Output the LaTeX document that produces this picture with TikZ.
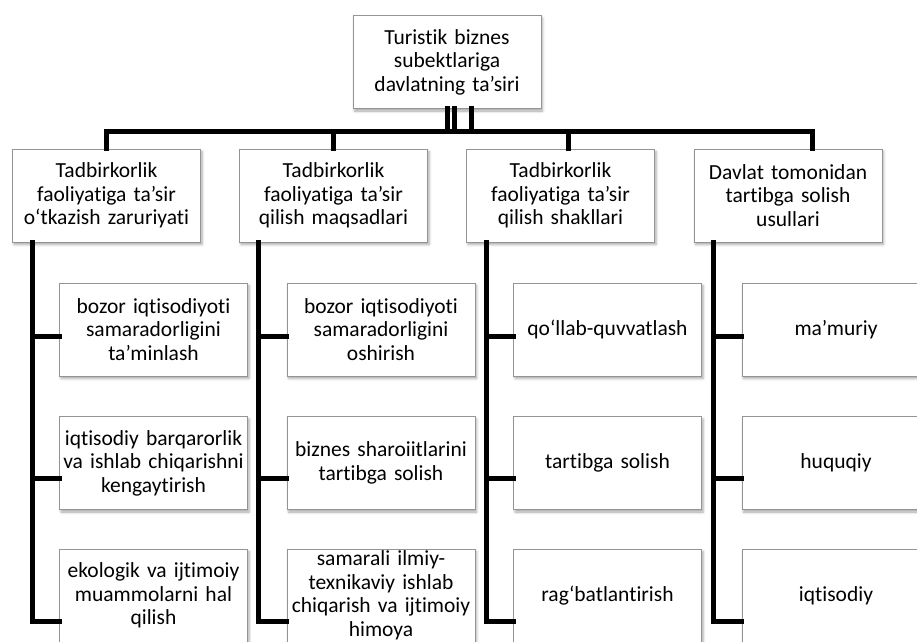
\documentclass[tikz,border=0pt]{standalone}
\usepackage{fontspec}
\setmainfont{Carlito}[Ligatures={NoCommon,NoContextual}]
\usepackage{tikz}
\usetikzlibrary{positioning,calc,shadows.blur}

\tikzset{
  box/.style={draw=black!42, line width=0.9pt, fill=white, rectangle,
    minimum width=188pt, minimum height=93pt, inner sep=2pt,
    text width=184pt, align=center,
    font=\fontsize{21.5}{23.5}\selectfont,
    blur shadow={shadow xshift=1.5pt, shadow yshift=-2.5pt, shadow blur radius=2.5pt, shadow opacity=35}},
  link/.style={line width=5pt, line cap=rect}
}

\begin{document}
\begin{tikzpicture}[x=1pt, y=-1pt]
    \useasboundingbox (0,0) rectangle (917,641);
    \clip (0,0) rectangle (917,641);

    \coordinate (bus) at (447,131);

    \node [box] (top) at (447,62) {Turistik biznes\\ subektlariga\\ davlatning ta’siri};

    \node [box] (need) at (106.5,195.5) {Tadbirkorlik\\ faoliyatiga ta’sir\\ o‘tkazish zaruriyati};
    \node [box] (goal) at (333.5,195.5) {Tadbirkorlik\\ faoliyatiga ta’sir\\ qilish maqsadlari};
    \node [box] (form) at (560.5,195.5) {Tadbirkorlik\\ faoliyatiga ta’sir\\ qilish shakllari};
    \node [box] (meth) at (788,195.5) {Davlat tomonidan\\ tartibga solish\\ usullari};

    \draw [link] (top.south) -- (top.south |- bus);
    \draw [link] ([xshift=7]top.south) -- ([xshift=7]top.south |- bus);
    \draw [link] ([xshift=24]top.south) -- ([xshift=24]top.south |- bus);
    \draw [link] (need.north) -- (need.north |- bus) -- ([xshift=24]meth.north |- bus) -- ([xshift=24]meth.north);
    \draw [link] (goal.north) -- (goal.north |- bus);
    \draw [link] ([xshift=7.5]form.north) -- ([xshift=7.5]form.north |- bus);

    % first column
    \node [box] (need1) at (153.5,329.5) {bozor iqtisodiyoti\\ samaradorligini\\ ta’minlash};
    \node [box] (need2) at (153.5,463) {iqtisodiy barqarorlik\\ va ishlab chiqarishni\\ kengaytirish};
    \node [box] (need3) at (153.5,595.5) {ekologik va ijtimoiy\\ muammolarni hal\\ qilish};

    % second column
    \node [box] (goal1) at (381,329.5) {bozor iqtisodiyoti\\ samaradorligini\\ oshirish};
    \node [box] (goal2) at (381,463) {biznes sharoiitlarini\\ tartibga solish};
    \node [box] (goal3) at (381,595.5) {samarali ilmiy-\\ texnikaviy ishlab\\ chiqarish va ijtimoiy\\ himoya};

    % third column
    \node [box] (form1) at (607.5,329.5) {qo‘llab-quvvatlash};
    \node [box] (form2) at (607.5,463) {tartibga solish};
    \node [box] (form3) at (607.5,595.5) {rag‘batlantirish};

    % fourth column
    \node [box] (meth1) at (836,329.5) {ma’muriy};
    \node [box] (meth2) at (836,463) {huquqiy};
    \node [box] (meth3) at (836,595.5) {iqtisodiy};

    \draw [link] ([xshift=-74.5]need.south) |- ([yshift=-25.5]need3.west);
    \draw [link] ([xshift=-74.5]need.south |- need1.west) ++(0,6.5) -- ([yshift=-6.5]need1.west);
    \draw [link] ([xshift=-74.5]need.south |- need2.west) ++(0,15) -- ([yshift=-15]need2.west);

    \draw [link] ([xshift=-75.5]goal.south) |- ([yshift=-25.5]goal3.west);
    \draw [link] ([xshift=-75.5]goal.south |- goal1.west) ++(0,6.5) -- ([yshift=-6.5]goal1.west);
    \draw [link] ([xshift=-75.5]goal.south |- goal2.west) ++(0,15) -- ([yshift=-15]goal2.west);

    \draw [link] ([xshift=-74.5]form.south) |- ([yshift=-25.5]form3.west);
    \draw [link] ([xshift=-74.5]form.south |- form1.west) ++(0,6.5) -- ([yshift=-6.5]form1.west);
    \draw [link] ([xshift=-74.5]form.south |- form2.west) ++(0,15) -- ([yshift=-15]form2.west);

    \draw [link] ([xshift=-75]meth.south) |- ([yshift=-25.5]meth3.west);
    \draw [link] ([xshift=-75]meth.south |- meth1.west) ++(0,6.5) -- ([yshift=-6.5]meth1.west);
    \draw [link] ([xshift=-75]meth.south |- meth2.west) ++(0,15) -- ([yshift=-15]meth2.west);

\end{tikzpicture}
\end{document}
